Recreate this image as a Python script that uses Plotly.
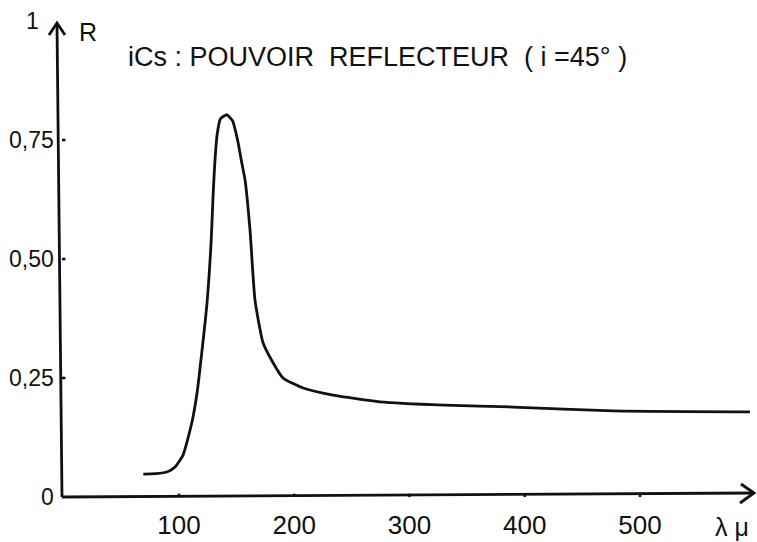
import plotly.graph_objects as go

# --- data ---
wavelength = [69, 80, 90, 96.5, 103.5, 111.3, 115.6, 118.2, 124.3, 127.8, 129.5, 131, 133,
              136, 141.5, 146.5, 150.8, 154.6, 157.3, 161.6, 165.9, 172.9, 181.6,
              190.2, 207.6, 233.6, 274.4, 330, 389.8, 476.6, 595.4]
reflectance = [0.048, 0.049, 0.053, 0.063, 0.088, 0.158, 0.218, 0.27, 0.408, 0.534, 0.63, 0.70, 0.76,
               0.795, 0.803, 0.79, 0.75, 0.70, 0.666, 0.561, 0.414, 0.324, 0.282,
               0.25, 0.229, 0.214, 0.2, 0.193, 0.189, 0.181, 0.179]

x_ticks = [100, 200, 300, 400, 500]
x_tick_labels = ["100", "200", "300", "400", "500"]
y_ticks = [0, 0.25, 0.5, 0.75, 1]
y_tick_labels = ["0", "0,25", "0,50", "0,75", "1"]

NB = "\u00a0"
title_text = f"iCs{NB}: POUVOIR{NB} REFLECTEUR{NB} ({NB}i{NB}=45°{NB})"

# --- layout geometry (pixel mapping of the reference) ---
W, H = 757, 542
L, R_, T, B = 30, 0, 0, 37
X0, X1 = -29.3, 601.5
Y0, Y1 = -0.0168, 1.0441

def px_to_x(px):
    return X0 + (px - L) / (W - L - R_) * (X1 - X0)

def py_to_y(py):
    return Y1 - (py - T) / (H - T - B) * (Y1 - Y0)

def px_to_paper(px):
    return (px - L) / (W - L - R_)

def py_to_paper(py):
    return (H - B - py) / (H - T - B)

FONT = "Liberation Sans"
ink = "#111111"
LW = 2.8

fig = go.Figure()
fig.add_trace(go.Scatter(x=wavelength, y=reflectance, mode="lines",
                         line=dict(color=ink, width=LW, shape="spline", smoothing=0.5),
                         hoverinfo="skip", showlegend=False))

shapes = []
ax_x = px_to_x(62)
# axes
shapes.append(dict(type="line", xref="x", yref="y", x0=ax_x, y0=0, x1=px_to_x(57), y1=py_to_y(24),
                   line=dict(color=ink, width=LW)))
shapes.append(dict(type="line", xref="x", yref="y", x0=ax_x, y0=0, x1=px_to_x(754), y1=py_to_y(493),
                   line=dict(color=ink, width=LW)))
# arrow heads
shapes.append(dict(type="path", xref="x", yref="y",
                   path=f"M {px_to_x(49)} {py_to_y(35)} L {px_to_x(57)} {py_to_y(23)} L {px_to_x(65)} {py_to_y(35)}",
                   line=dict(color=ink, width=LW)))
shapes.append(dict(type="path", xref="x", yref="y",
                   path=f"M {px_to_x(741)} {py_to_y(484)} L {px_to_x(754)} {py_to_y(493)} L {px_to_x(740)} {py_to_y(503)}",
                   line=dict(color=ink, width=LW)))
# tick nubs
for v in x_ticks:
    shapes.append(dict(type="line", xref="x", yref="y", x0=v, x1=v, y0=0, y1=0.007,
                       line=dict(color=ink, width=2.6)))
for v in y_ticks[1:4]:
    shapes.append(dict(type="line", xref="x", yref="y", x0=ax_x, x1=ax_x + 3, y0=v, y1=v,
                       line=dict(color=ink, width=2.6)))

def label(px, py, text, size, anchor="center"):
    return dict(x=px_to_paper(px), y=py_to_paper(py), xref="paper", yref="paper", text=text,
                showarrow=False, xanchor=anchor, yanchor="middle",
                font=dict(family=FONT, size=size, color=ink))

annotations = [
    label((128 + 627) / 2, 57, title_text, 27),
    label(88, 32, "R", 25),
    label(732, 527, "λ μ", 25),
]
# y tick labels, right-aligned next to the axis
for v, t in zip(y_ticks, y_tick_labels):
    right_px = 41 if v == 1 else 56
    annotations.append(dict(x=px_to_x(right_px), y=v, xref="x", yref="y", text=t, showarrow=False,
                            xanchor="right", yanchor="middle",
                            font=dict(family=FONT, size=23, color=ink)))

fig.update_layout(
    width=W, height=H,
    margin=dict(l=L, r=R_, t=T, b=B, pad=0),
    paper_bgcolor="white", plot_bgcolor="white",
    shapes=shapes, annotations=annotations,
    xaxis=dict(range=[X0, X1], showgrid=False, zeroline=False, showline=False,
               tickvals=x_ticks, ticktext=x_tick_labels, ticks="",
               tickfont=dict(family=FONT, size=26, color=ink), ticklabelstandoff=2),
    yaxis=dict(range=[Y0, Y1], showgrid=False, zeroline=False, showline=False,
               tickvals=y_ticks, showticklabels=False, ticks=""),
)

fig.write_html("out.html", config={"displayModeBar": False},
               post_script="document.body.style.margin='0';")
